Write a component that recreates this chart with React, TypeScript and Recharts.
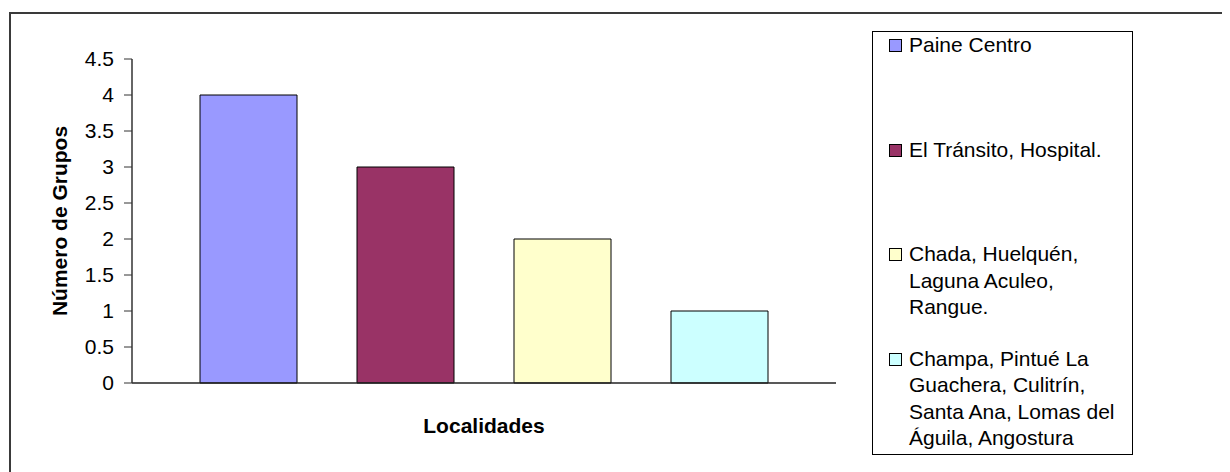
import { Bar, BarChart, XAxis, YAxis } from 'recharts';

// one category, four series (Excel-style clustered bars)
const seriesNames = [
  'Paine Centro',
  'El Tránsito, Hospital.',
  'Chada, Huelquén,\nLaguna Aculeo,\nRangue.',
  'Champa, Pintué La\nGuachera, Culitrín,\nSanta Ana, Lomas del\nÁguila, Angostura',
];
const seriesValues = [4, 3, 2, 1];
const seriesColors = ['#9999FF', '#993366', '#FFFFCC', '#CCFFFF'];
const yTicks = [0, 0.5, 1, 1.5, 2, 2.5, 3, 3.5, 4, 4.5];
const categoryEdges = [0, 1];
const xTitle = 'Localidades';
const yTitle = 'Número de Grupos';

const data = [
  seriesValues.reduce<Record<string, number | string>>(
    (row, v, i) => {
      row[`s${i}`] = v;
      return row;
    },
    { cat: '', edge: 0 },
  ),
];

const font = '"Liberation Sans", Arial, sans-serif';
const fontSize = 21;

function LegendBox() {
  return (
    <div
      style={{
        position: 'absolute',
        left: 864,
        top: 23,
        width: 259,
        height: 422,
        border: '1px solid #000',
      }}
    >
      {seriesNames.map((name, i) => (
        <div key={name} style={{ position: 'absolute', left: 0, top: i * 104.5, width: '100%', height: 104 }}>
          <div
            style={{
              position: 'absolute',
              left: 16,
              top: 7,
              width: 11,
              height: 11,
              background: seriesColors[i],
              border: '1px solid #000',
            }}
          />
          <div
            style={{
              position: 'absolute',
              left: 36,
              top: 0,
              fontSize,
              lineHeight: '26.5px',
              whiteSpace: 'pre-line',
              color: '#000',
            }}
          >
            {name}
          </div>
        </div>
      ))}
    </div>
  );
}

export default function App() {
  return (
    <div style={{ position: 'relative', width: 1222, height: 464, overflow: 'hidden', fontFamily: font }}>
      <div
        style={{
          position: 'absolute',
          left: 1,
          top: 4,
          width: 1400,
          height: 600,
          borderTop: '2px solid #3a3a3a',
          borderLeft: '2px solid #3a3a3a',
        }}
      />
      <div style={{ position: 'absolute', left: 0, top: 0 }}>
        <BarChart
          width={840}
          height={456}
          data={data}
          margin={{ top: 51, right: 12, left: 14, bottom: 21 }}
          barCategoryGap={68}
          barGap={60}
        >
          {/* tick marks at the category boundaries, as Excel draws them */}
          <XAxis
            xAxisId="edges"
            dataKey="edge"
            type="number"
            domain={[0, 1]}
            ticks={categoryEdges}
            height={0}
            tick={false}
            tickSize={7}
            tickLine={{ stroke: '#333' }}
            axisLine={false}
          />
          <XAxis
            dataKey="cat"
            height={60}
            tick={false}
            tickLine={false}
            axisLine={{ stroke: '#222', strokeWidth: 1.5 }}
            label={{ value: xTitle, position: 'insideBottom', offset: 10, fontSize, fontWeight: 'bold', fill: '#000' }}
          />
          <XAxis xAxisId="top" dataKey="cat" orientation="top" height={0} tick={false} tickLine={false} axisLine={{ stroke: '#888' }} />
          <YAxis
            width={110}
            domain={[0, 4.5]}
            ticks={yTicks}
            interval={0}
            tickSize={8}
            tickMargin={10}
            tick={{ fill: '#000', fontSize }}
            tickLine={{ stroke: '#333' }}
            axisLine={{ stroke: '#333', strokeWidth: 1.5 }}
            label={{
              value: yTitle,
              angle: -90,
              position: 'insideLeft',
              offset: 38,
              fontSize,
              fontWeight: 'bold',
              fill: '#000',
              style: { textAnchor: 'middle' },
            }}
          />
          <YAxis yAxisId="right" orientation="right" width={0} domain={[0, 1]} tick={false} tickLine={false} axisLine={{ stroke: '#888' }} />
          {seriesNames.map((name, i) => (
            <Bar
              key={name}
              dataKey={`s${i}`}
              name={name}
              fill={seriesColors[i]}
              stroke="#000"
              strokeWidth={1}
              isAnimationActive={false}
            />
          ))}
        </BarChart>
      </div>
      <LegendBox />
    </div>
  );
}
